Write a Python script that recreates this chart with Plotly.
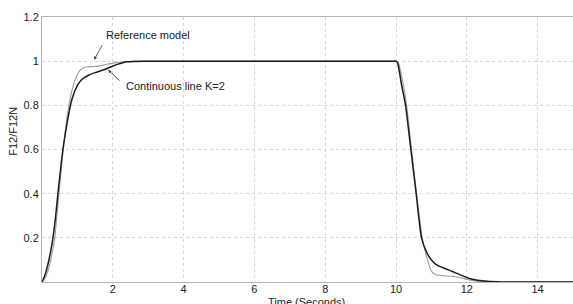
import plotly.graph_objects as go

# Reference model (thin grey line)
ref_t = [0, 0.1, 0.2, 0.28, 0.36, 0.48, 0.6, 0.72, 0.85, 1.0, 1.1, 1.25, 1.5, 1.7, 2.0, 2.4, 3.0, 4.0, 6.0, 8.0, 9.5, 9.9,
         10.0, 10.07, 10.2, 10.3, 10.44, 10.58, 10.74, 10.88, 11.02, 11.15, 11.3, 11.73, 12.1, 12.5, 13.0, 14.0, 15.0]
ref_v = [0, 0.02, 0.07, 0.125, 0.2, 0.4, 0.6, 0.76, 0.87, 0.94, 0.963, 0.974, 0.976, 0.981, 0.991, 0.998, 1.0, 1.0, 1.0, 1.0, 1.0, 1.0,
         1.0, 0.99, 0.9, 0.8, 0.6, 0.4, 0.2, 0.105, 0.045, 0.032, 0.029, 0.023, 0.008, 0.001, 0.0, 0.0, 0.0]

# Continuous line K=2 (black line)
k2_t = [0, 0.08, 0.16, 0.24, 0.31, 0.38, 0.45, 0.59, 0.72, 0.85, 1.0, 1.11, 1.3, 1.5, 1.77, 2.0, 2.4, 3.0, 4.0, 6.0, 8.0, 9.5, 9.9,
        10.0, 10.05, 10.15, 10.27, 10.42, 10.57, 10.72, 10.88, 11.0, 11.16, 11.4, 11.63, 11.85, 12.1, 12.57, 13.0, 14.0, 15.0]
k2_v = [0, 0.03, 0.075, 0.135, 0.2, 0.29, 0.4, 0.6, 0.73, 0.83, 0.89, 0.915, 0.935, 0.948, 0.962, 0.978, 0.997, 1.0, 1.0, 1.0, 1.0, 1.0, 1.0,
        1.0, 0.99, 0.9, 0.8, 0.6, 0.4, 0.2, 0.13, 0.1, 0.076, 0.06, 0.045, 0.03, 0.015, 0.003, 0.0, 0.0, 0.0]

x_ticks = [2, 4, 6, 8, 10, 12, 14]
y_ticks = [0.2, 0.4, 0.6, 0.8, 1.0, 1.2]
y_tick_text = ["0.2", "0.4", "0.6", "0.8", "1", "1.2"]

fig = go.Figure()
fig.add_trace(go.Scatter(x=ref_t, y=ref_v, mode="lines",
                         line=dict(color="#9a9a9a", width=1.1, shape="spline", smoothing=0.5),
                         showlegend=False, hoverinfo="skip"))
fig.add_trace(go.Scatter(x=k2_t, y=k2_v, mode="lines",
                         line=dict(color="#1c1c1c", width=1.5, shape="spline", smoothing=0.5),
                         showlegend=False, hoverinfo="skip"))

font = dict(family="Liberation Sans, Arial, sans-serif", size=11, color="#222222")

fig.update_layout(
    width=573, height=304,
    margin=dict(l=42, r=0, t=17, b=22),
    paper_bgcolor="white", plot_bgcolor="white",
    font=font,
    xaxis=dict(range=[0, 15], tickvals=x_ticks, showgrid=True, gridcolor="#d6d6d6",
               griddash="dot", gridwidth=1, zeroline=False, showline=True, linecolor="#b5b5b5",
               linewidth=1, mirror=True, ticks="", tickfont=font, ticklabelstandoff=-3),
    yaxis=dict(range=[0, 1.2], tickvals=y_ticks, ticktext=y_tick_text, showgrid=True,
               gridcolor="#d6d6d6", griddash="dot", gridwidth=1, zeroline=False,
               showline=True, linecolor="#b5b5b5", linewidth=1, mirror=True, ticks="",
               tickfont=font),
)

# Axis titles
fig.add_annotation(text="F12/F12N", xref="paper", yref="paper", x=-0.055, y=0.57,
                   xanchor="center", yanchor="middle", textangle=-90, showarrow=False, font=font)
fig.add_annotation(text="Time (Seconds)", xref="paper", yref="paper", x=0.499, y=-0.075,
                   xanchor="center", yanchor="middle", showarrow=False, font=font)

# Labels with arrows
fig.add_annotation(text="Reference model", x=2.99, y=1.118, xref="x", yref="y",
                   showarrow=False, font=font)
fig.add_annotation(text="", x=1.47, y=1.006, xref="x", yref="y", ax=9, ay=-16,
                   showarrow=True, arrowhead=2, arrowsize=0.8, arrowwidth=0.8, arrowcolor="#333333")
fig.add_annotation(text="Continuous line K=2", x=3.78, y=0.887, xref="x", yref="y",
                   showarrow=False, font=font)
fig.add_annotation(text="", x=1.87, y=0.96, xref="x", yref="y", ax=13, ay=12,
                   showarrow=True, arrowhead=2, arrowsize=0.8, arrowwidth=0.8, arrowcolor="#333333")

fig.write_html("out.html", config={"displayModeBar": False},
               post_script="document.body.style.margin='0';document.body.style.padding='0';")
